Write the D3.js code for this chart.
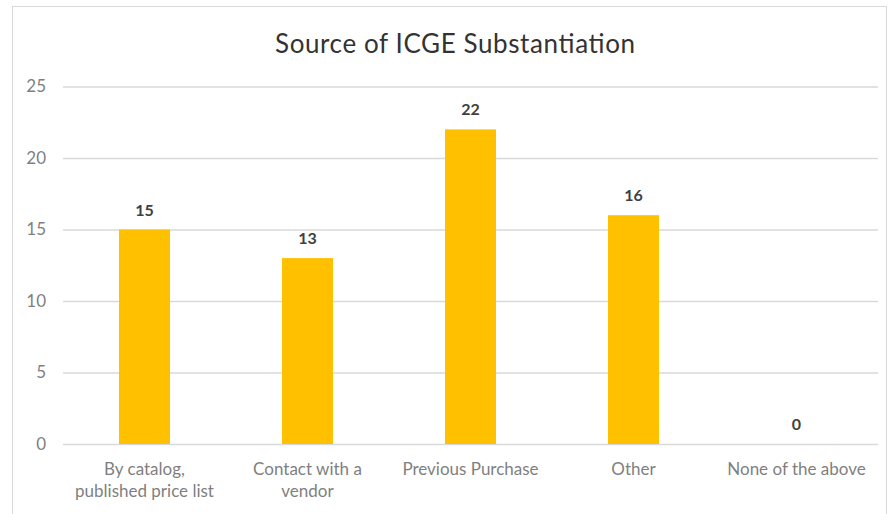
<!DOCTYPE html>
<html>
<head>
<meta charset="utf-8">
<script src="https://cdn.jsdelivr.net/npm/d3@7"></script>
<style>
  html, body { margin: 0; padding: 0; background: #fff; }
  svg { display: block; }
</style>
</head>
<body>
<svg id="chart" width="890" height="514"></svg>
<script>
// Survey responses: how the ICGE price was substantiated
const categories = [
  "By catalog,\npublished price list",
  "Contact with a\nvendor",
  "Previous Purchase",
  "Other",
  "None of the above"
];
const counts = [15, 13, 22, 16, 0];
const yTicks = [0, 5, 10, 15, 20, 25];
const title = "Source of ICGE Substantiation";

const svg = d3.select("#chart");
const plot = { left: 63, right: 878, top: 86.5, bottom: 444 };
const font = "Lato, 'Open Sans', sans-serif";

// chart frame
svg.append("rect")
  .attr("x", 12.5).attr("y", 6.5)
  .attr("width", 874).attr("height", 520)
  .attr("fill", "#fff").attr("stroke", "#d9d9d9").attr("stroke-width", 1);

const x = d3.scaleBand()
  .domain(categories)
  .range([plot.left, plot.right])
  .paddingInner(0.687).paddingOuter(0.3435);

const y = d3.scaleLinear()
  .domain([0, 25])
  .range([plot.bottom, plot.top]);

// horizontal gridlines + tick labels
const yAxis = d3.axisLeft(y)
  .tickValues(yTicks)
  .tickSize(-(plot.right - plot.left))
  .tickPadding(17);

const gy = svg.append("g")
  .attr("transform", `translate(${plot.left},0)`)
  .call(yAxis);
gy.select(".domain").remove();
gy.selectAll(".tick line").attr("stroke", "#d9d9d9").attr("stroke-width", 1.5);
gy.selectAll(".tick text")
  .attr("fill", "#7f7f7f")
  .style("font-family", font)
  .style("font-size", "17px");

// bars
svg.append("g").selectAll("rect")
  .data(counts)
  .join("rect")
  .attr("x", (d, i) => x(categories[i]))
  .attr("y", d => y(d))
  .attr("width", x.bandwidth())
  .attr("height", d => y(0) - y(d))
  .attr("fill", "#ffc000");

// value labels
svg.append("g").selectAll("text")
  .data(counts)
  .join("text")
  .attr("x", (d, i) => x(categories[i]) + x.bandwidth() / 2)
  .attr("y", d => y(d) - 14)
  .attr("text-anchor", "middle")
  .attr("fill", "#404040")
  .style("font-family", font)
  .style("font-weight", "bold")
  .style("font-size", "16px")
  .text(d => d);

// category labels (may wrap to two lines)
const xl = svg.append("g").selectAll("text")
  .data(categories)
  .join("text")
  .attr("x", d => x(d) + x.bandwidth() / 2)
  .attr("y", 475)
  .attr("text-anchor", "middle")
  .attr("fill", "#7f7f7f")
  .style("font-family", font)
  .style("font-size", "17px");
xl.each(function(d) {
  const t = d3.select(this);
  d.split("\n").forEach((line, k) => {
    t.append("tspan")
      .attr("x", x(d) + x.bandwidth() / 2)
      .attr("dy", k === 0 ? 0 : 22)
      .text(line);
  });
});

// title
svg.append("text")
  .attr("x", 455)
  .attr("y", 53)
  .attr("text-anchor", "middle")
  .attr("textLength", 360)
  .attr("lengthAdjust", "spacing")
  .attr("fill", "#333333")
  .style("font-family", font)
  .style("font-size", "26px")
  .text(title);
</script>
</body>
</html>
